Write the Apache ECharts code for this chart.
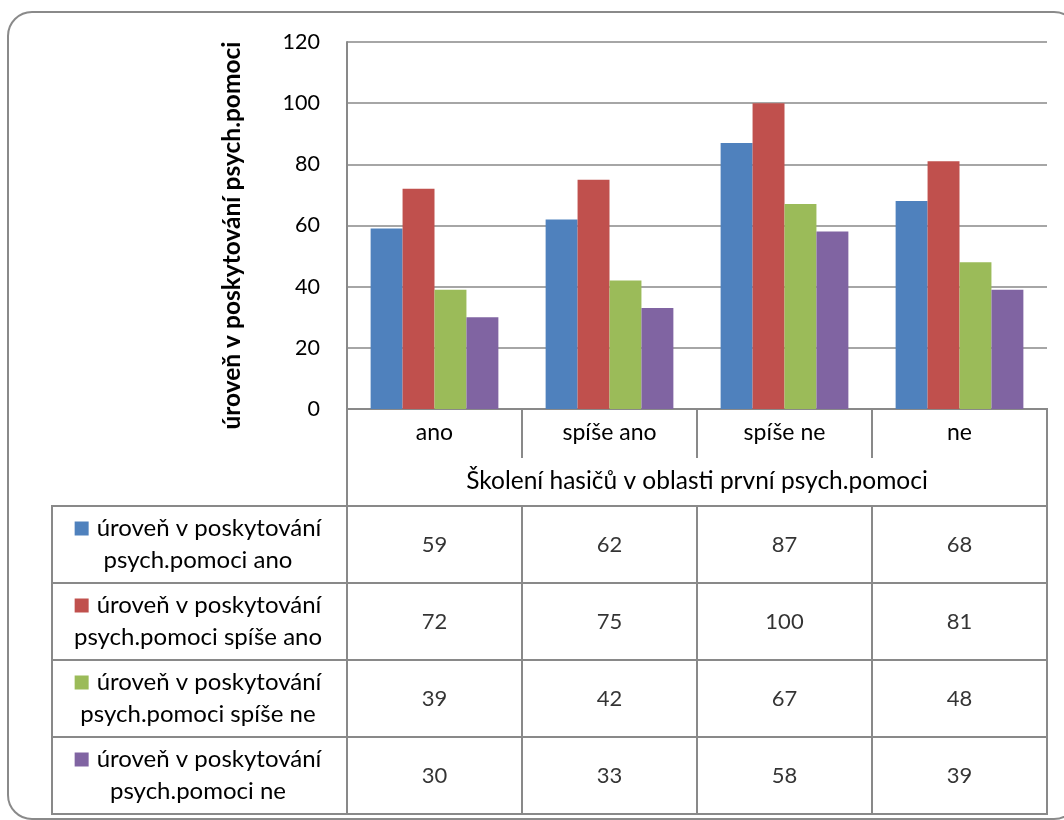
<!DOCTYPE html>
<html>
<head>
<meta charset="utf-8">
<script src="https://cdn.jsdelivr.net/npm/echarts@6/dist/echarts.min.js"></script>
<style>
html,body{margin:0;padding:0;background:#fff;}
#c{width:1064px;height:820px;}
</style>
</head>
<body>
<div id="c"></div>
<script>
const categories = ['ano', 'spíše ano', 'spíše ne', 'ne'];
const seriesNames = [
  'úroveň v poskytování psych.pomoci ano',
  'úroveň v poskytování psych.pomoci spíše ano',
  'úroveň v poskytování psych.pomoci spíše ne',
  'úroveň v poskytování psych.pomoci ne'
];
const valuesAno = [59, 62, 87, 68];
const valuesSpiseAno = [72, 75, 100, 81];
const valuesSpiseNe = [39, 42, 67, 48];
const valuesNe = [30, 33, 58, 39];
const yTicks = [0, 20, 40, 60, 80, 100, 120];
const yAxisTitle = 'úroveň v poskytování psych.pomoci';
const xAxisTitle = 'Školení hasičů v oblasti první psych.pomoci';
const colors = ['#4F81BD', '#C0504D', '#9BBB59', '#8064A2'];

const allValues = [valuesAno, valuesSpiseAno, valuesSpiseNe, valuesNe];
const FONT = 'Lato';
const LINE = '#898989';

const chart = echarts.init(document.getElementById('c'), null, {renderer: 'canvas'});

const rich = {};
colors.forEach((c, i) => { rich['m' + i] = {width: 14, height: 14, backgroundColor: c}; });
rich.t = {fontFamily: FONT, fontSize: 24, color: '#000', lineHeight: 32};
rich.g = {width: 8};

const tableData = [];
allValues.forEach((arr, r) => arr.forEach((v, c) => tableData.push([c, r, v])));

const option = {
  backgroundColor: '#fff',
  animation: false,
  color: colors,
  textStyle: {fontFamily: FONT},
  graphic: [{
    type: 'rect',
    shape: {x: 8, y: 12, width: 1070, height: 807, r: 24},
    style: {fill: 'none', stroke: '#8a8a8a', lineWidth: 2},
    z: 100
  }],
  grid: [
    {left: 347, top: 42, width: 700, height: 367},
    {left: 347, top: 409, width: 700, height: 97, show: true, borderColor: LINE, borderWidth: 2, backgroundColor: 'transparent'},
    {left: 52, top: 506, width: 295, height: 308, show: true, borderColor: LINE, borderWidth: 2, backgroundColor: 'transparent'},
    {left: 347, top: 506, width: 700, height: 308, show: true, borderColor: LINE, borderWidth: 2, backgroundColor: 'transparent'}
  ],
  xAxis: [
    {
      gridIndex: 0, type: 'category', data: categories,
      axisLine: {show: true, lineStyle: {color: LINE, width: 2}},
      axisTick: {show: true, length: 49, interval: 0, lineStyle: {color: LINE, width: 2}},
      axisLabel: {margin: 12, fontFamily: FONT, fontSize: 23, color: '#000', interval: 0},
      name: xAxisTitle, nameLocation: 'middle', nameGap: 60,
      nameTextStyle: {fontFamily: FONT, fontSize: 24.5, color: '#000'}
    },
    {gridIndex: 1, type: 'category', data: categories, show: false},
    {gridIndex: 2, type: 'category', data: [''], show: false},
    {
      gridIndex: 3, type: 'category', data: categories,
      axisLine: {show: false}, axisTick: {show: false}, axisLabel: {show: false},
      splitLine: {show: true, interval: 0, lineStyle: {color: LINE, width: 2}}
    }
  ],
  yAxis: [
    {
      gridIndex: 0, type: 'value', min: 0, max: 120, interval: 20,
      axisLine: {show: true, lineStyle: {color: LINE, width: 2}},
      axisTick: {show: false},
      axisLabel: {margin: 27, fontFamily: FONT, fontSize: 21.5, color: '#000',
        formatter: v => yTicks.includes(v) ? String(v) : ''},
      splitLine: {show: true, lineStyle: {color: LINE, width: 1.5}},
      name: yAxisTitle, nameLocation: 'middle', nameGap: 102,
      nameTextStyle: {fontFamily: FONT, fontSize: 24.5, fontWeight: 'bold', color: '#000', padding: [0, 0, 0, -20]}
    },
    {gridIndex: 1, type: 'value', show: false},
    {
      gridIndex: 2, type: 'category', data: seriesNames, inverse: true,
      axisLine: {show: false}, axisTick: {show: false},
      splitLine: {show: true, interval: 0, lineStyle: {color: LINE, width: 2}},
      axisLabel: {
        inside: true, margin: 146, align: 'center', interval: 0,
        formatter: (v, idx) => {
          const k = v.indexOf(' psych.');
          return '{m' + idx + '|}{g|}{t|' + v.slice(0, k) + '}\n{t|' + v.slice(k + 1) + '}';
        },
        rich: rich
      }
    },
    {
      gridIndex: 3, type: 'category', data: seriesNames, inverse: true,
      axisLine: {show: false}, axisTick: {show: false}, axisLabel: {show: false},
      splitLine: {show: true, interval: 0, lineStyle: {color: LINE, width: 2}}
    }
  ],
  series: allValues.map((arr, i) => ({
    type: 'bar', name: seriesNames[i], xAxisIndex: 0, yAxisIndex: 0,
    data: arr, barGap: '0%', barCategoryGap: '27%',
    itemStyle: {color: colors[i]}
  })).concat([{
    type: 'scatter', xAxisIndex: 3, yAxisIndex: 3, data: tableData,
    symbolSize: 0,
    label: {show: true, position: 'inside', formatter: p => String(p.value[2]),
      fontFamily: FONT, fontSize: 22, color: '#000'}
  }])
};
chart.setOption(option);
</script>
</body>
</html>
